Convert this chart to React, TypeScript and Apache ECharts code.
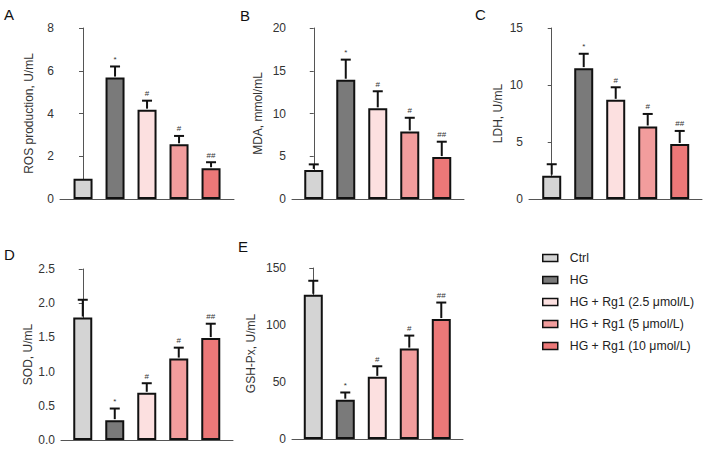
import React, { useEffect, useRef } from "react";
import * as echarts from "echarts";

const groups = [
  "Ctrl",
  "HG",
  "HG + Rg1 (2.5 μmol/L)",
  "HG + Rg1 (5 μmol/L)",
  "HG + Rg1 (10 μmol/L)",
];
const marks = ["", "*", "#", "#", "##"];

const rosMean = [0.95, 5.68, 4.18, 2.56, 1.44];
const rosSd = [0, 0.52, 0.42, 0.39, 0.28];
const mdaMean = [3.4, 13.95, 10.6, 7.9, 4.9];
const mdaSd = [0.65, 2.35, 2.0, 1.6, 1.8];
const ldhMean = [2.05, 11.48, 8.7, 6.36, 4.83];
const ldhSd = [1.0, 1.26, 1.1, 1.1, 1.14];
const sodMean = [1.79, 0.29, 0.69, 1.19, 1.49];
const sodSd = [0.26, 0.17, 0.14, 0.16, 0.21];
const gshMean = [126.5, 34.5, 54.5, 79.3, 105.2];
const gshSd = [12.3, 6.3, 9.3, 11.4, 14.5];

const colors = ["#d4d4d4", "#7a7a7a", "#fce0e0", "#f29d9d", "#ec7878"];

type Panel = {
  letter: string;
  name: string;
  mean: number[];
  sd: number[];
  max: number;
  interval: number;
  decimals: number;
  grid: { left: number; top: number; width: number; height: number };
  xMin: number;
  nameGap: number;
  letterPos: [number, number];
};

const panels: Panel[] = [
  { letter: "A", name: "ROS production, U/mL", mean: rosMean, sd: rosSd, max: 8, interval: 2, decimals: 0,
    grid: { left: 60, top: 28, width: 174, height: 171 }, xMin: -0.72, nameGap: 25, letterPos: [4, 7] },
  { letter: "B", name: "MDA, mmol/mL", mean: mdaMean, sd: mdaSd, max: 20, interval: 5, decimals: 0,
    grid: { left: 292, top: 28, width: 172, height: 171 }, xMin: -0.68, nameGap: 28, letterPos: [240, 8] },
  { letter: "C", name: "LDH, U/mL", mean: ldhMean, sd: ldhSd, max: 15, interval: 5, decimals: 0,
    grid: { left: 529, top: 28, width: 173, height: 171 }, xMin: -0.71, nameGap: 25, letterPos: [475, 7] },
  { letter: "D", name: "SOD, U/mL", mean: sodMean, sd: sodSd, max: 2.5, interval: 0.5, decimals: 1,
    grid: { left: 61, top: 269, width: 172, height: 171 }, xMin: -0.68, nameGap: 26, letterPos: [4, 247] },
  { letter: "E", name: "GSH-Px, U/mL", mean: gshMean, sd: gshSd, max: 150, interval: 50, decimals: 0,
    grid: { left: 292, top: 268, width: 171, height: 171 }, xMin: -0.665, nameGap: 35, letterPos: [238, 239] },
];

const FONT = "'Liberation Sans', Arial, sans-serif";

export default function App() {
  const ref = useRef<HTMLDivElement>(null);
  useEffect(() => {
    if (!ref.current) return;
    const chart = echarts.init(ref.current, undefined, { renderer: "svg" });
    const grids: any[] = [];
    const xAxes: any[] = [];
    const yAxes: any[] = [];
    const series: any[] = [];
    const graphics: any[] = [];
    panels.forEach((p, pi) => {
      grids.push({ ...p.grid, containLabel: false });
      xAxes.push({
        type: "value",
        gridIndex: pi,
        min: p.xMin,
        max: p.xMin + p.grid.width / 32,
        axisLine: { show: true, onZero: false, lineStyle: { color: "#555", width: 1 } },
        axisTick: { show: false },
        axisLabel: { show: false },
        splitLine: { show: false },
      });
      yAxes.push({
        type: "value",
        gridIndex: pi,
        min: 0,
        max: p.max,
        interval: p.interval,
        name: p.name,
        nameLocation: "middle",
        nameGap: p.nameGap,
        nameTextStyle: { fontSize: 12, color: "#333", fontFamily: FONT },
        axisLine: { show: true, lineStyle: { color: "#555", width: 1 } },
        axisTick: { show: true, length: 4, lineStyle: { color: "#555" } },
        axisLabel: {
          fontSize: 12,
          color: "#333",
          margin: 6,
          fontFamily: FONT,
          formatter: (v: number) => v.toFixed(p.decimals),
        },
        splitLine: { show: false },
      });
      groups.forEach((g, gi) => {
        series.push({
          type: "bar",
          name: g,
          xAxisIndex: pi,
          yAxisIndex: pi,
          barWidth: 19,
          barGap: "-100%",
          itemStyle: { color: colors[gi], borderColor: "#111", borderWidth: 2 },
          data: [[gi, p.mean[gi]]],
          z: 2,
        });
      });
      series.push({
        type: "custom",
        xAxisIndex: pi,
        yAxisIndex: pi,
        z: 3,
        itemStyle: { color: "#333" },
        data: groups.map((_, gi) => [gi, p.mean[gi], p.mean[gi] + p.sd[gi]]),
        renderItem: (params: any, api: any) => {
          const i = api.value(0);
          const m = api.value(1);
          const t = api.value(2);
          const p0 = api.coord([i, m]);
          const p1 = api.coord([i, t]);
          const children: any[] = [];
          if (t > m) {
            children.push({
              type: "line",
              shape: { x1: p0[0], y1: p0[1] - 1, x2: p1[0], y2: p1[1] },
              style: { stroke: "#111", lineWidth: 2 },
            });
            children.push({
              type: "line",
              shape: { x1: p1[0] - 5, y1: p1[1], x2: p1[0] + 5, y2: p1[1] },
              style: { stroke: "#111", lineWidth: 2 },
            });
          }
          const mk = marks[params.dataIndex];
          if (mk) {
            children.push({
              type: "text",
              style: {
                text: mk,
                x: p1[0],
                y: p1[1] - 3,
                align: "center",
                verticalAlign: "bottom",
                fontSize: 8,
                fill: "#333",
                fontFamily: FONT,
              },
            });
          }
          return { type: "group", children };
        },
      });
      graphics.push({
        type: "text",
        left: p.letterPos[0],
        top: p.letterPos[1],
        style: { text: p.letter, fontSize: 15, fill: "#111", fontFamily: FONT },
      });
    });

    chart.setOption({
      animation: false,
      textStyle: { fontFamily: FONT },
      grid: grids,
      xAxis: xAxes,
      yAxis: yAxes,
      series,
      graphic: graphics,
      legend: {
        data: groups,
        orient: "vertical",
        left: 542,
        top: 251,
        padding: 0,
        itemWidth: 15,
        itemHeight: 7,
        itemGap: 8,
        icon: "rect",
        itemStyle: { borderColor: "#111", borderWidth: 1.5 },
        textStyle: { fontSize: 12.3, color: "#222", lineHeight: 14, fontFamily: FONT, padding: [0, 0, 0, 7] },
        selectedMode: false,
      },
    });
    return () => chart.dispose();
  }, []);
  return (
    <div
      ref={ref}
      style={{ position: "fixed", left: 0, top: 0, width: 703, height: 449, background: "#fff" }}
    />
  );
}
